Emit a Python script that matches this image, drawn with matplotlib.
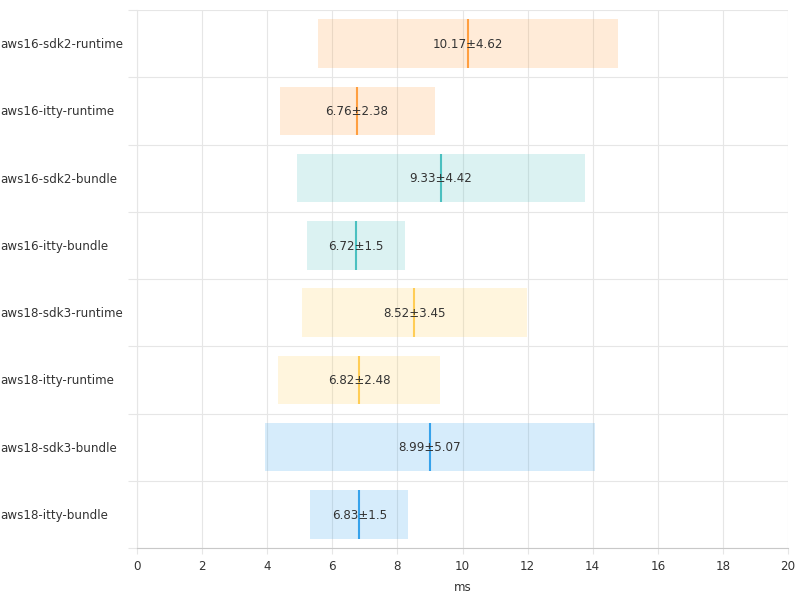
import matplotlib
matplotlib.use("Agg")
import matplotlib.pyplot as plt
import numpy as np

# datos del benchmark (media ± desviación)
nombres = [
    "aws16-sdk2-runtime", "aws16-itty-runtime",
    "aws16-sdk2-bundle", "aws16-itty-bundle",
    "aws18-sdk3-runtime", "aws18-itty-runtime",
    "aws18-sdk3-bundle", "aws18-itty-bundle",
]
medias = [10.17, 6.76, 9.33, 6.72, 8.52, 6.82, 8.99, 6.83]
desvios = [4.62, 2.38, 4.42, 1.5, 3.45, 2.48, 5.07, 1.5]
colores = [
    (255, 159, 64), (255, 159, 64),
    (75, 192, 192), (75, 192, 192),
    (255, 205, 86), (255, 205, 86),
    (54, 162, 235), (54, 162, 235),
]

fs = 8.6
gris = "#e6e6e6"
texto = "#333333"

fig = plt.figure(figsize=(8, 6), dpi=100)
ax = fig.add_axes([137 / 800, 1 - 548 / 600, (788 - 137) / 800, (548 - 10) / 600])

alto = 0.72
y = np.arange(len(nombres))
for i, (m, d, c) in enumerate(zip(medias, desvios, colores)):
    rgb = tuple(v / 255 for v in c)
    ax.barh(i, 2 * d, left=m - d, height=alto, color=rgb + (0.2,), linewidth=0, zorder=2)
    ax.vlines(m, i - alto / 2, i + alto / 2, color=rgb, linewidth=1.5, zorder=3)
    ax.text(m, i + 0.01, f"{m}±{d}", ha="center", va="center", fontsize=fs, color=texto, zorder=4)

ax.set_xlim(0, 20)
ax.set_ylim(len(nombres) - 0.5, -0.5)
ax.set_xticks(range(0, 21, 2))
ax.set_yticks(y)
ax.set_yticklabels([])
ax.set_yticks(np.arange(-0.5, len(nombres)), minor=True)
ax.tick_params(axis="y", which="major", length=0)
ax.tick_params(axis="y", which="minor", length=6.5, color=gris, width=0.8)
ax.tick_params(axis="x", length=4.5, color=gris, width=0.8, labelsize=fs,
               labelcolor=texto, pad=4)

ax.grid(axis="x", color=gris, linewidth=0.8, zorder=0)
ax.grid(axis="y", which="minor", color=gris, linewidth=0.8, zorder=0)
ax.set_axisbelow(True)

for lado in ["top", "right"]:
    ax.spines[lado].set_visible(False)
ax.spines["left"].set_color(gris)
ax.spines["left"].set_linewidth(0.8)
ax.spines["bottom"].set_color("#c8c8c8")
ax.spines["bottom"].set_linewidth(0.8)

for i, n in enumerate(nombres):
    ax.annotate(n, xy=(0, i + 0.015), xycoords=("figure fraction", "data"),
                ha="left", va="center", fontsize=fs, color=texto)

ax.set_xlabel("ms", fontsize=fs, color=texto, labelpad=6)

fig.savefig("out.png", dpi=100)
